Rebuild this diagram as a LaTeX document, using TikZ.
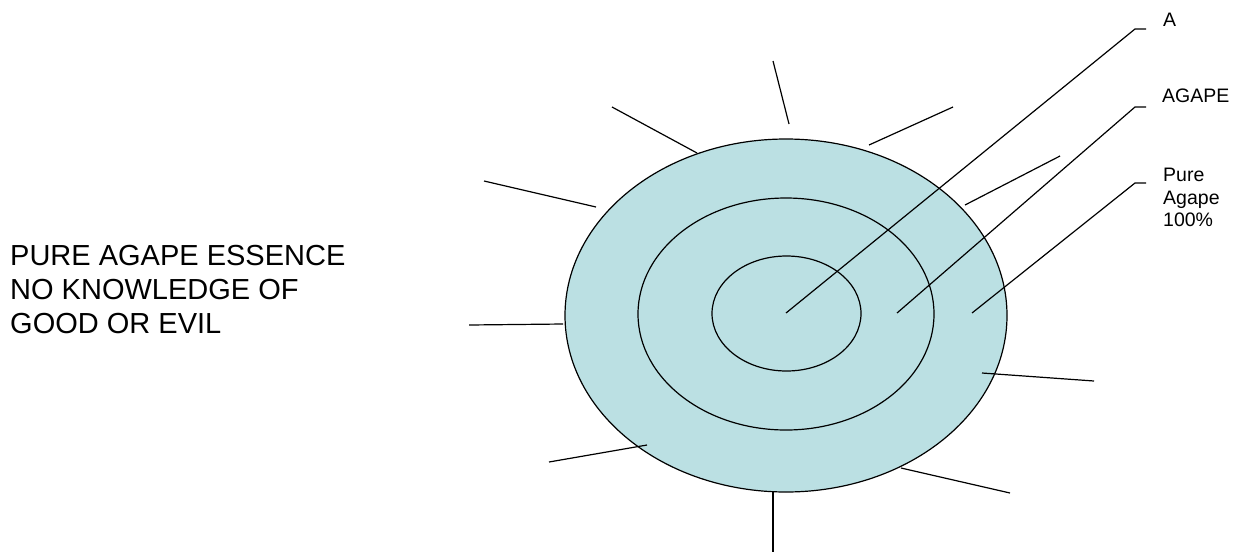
\documentclass[tikz,border=0pt]{standalone}
\usepackage{fontspec}
\setmainfont{Liberation Sans}
\definecolor{agape}{RGB}{187,224,227}
\begin{document}
\begin{tikzpicture}[x=1pt,y=-1pt,
  ring/.style={draw=black,line width=1.2pt},
  ray/.style={draw=black,line width=1.2pt},
  leader/.style={draw=black,line width=1.2pt},
  bigtext/.style={font=\fontsize{29}{34}\selectfont,align=left,anchor=north west,inner sep=0pt},
  lbl/.style={font=\fontsize{19.5}{22.5}\selectfont,align=left,anchor=north west,inner sep=0pt}]
\useasboundingbox (0,0) rectangle (1238,555);
% rings
\fill[agape] (786,315.5) ellipse [x radius=221,y radius=176.5];
\draw[ring] (786,315.5) ellipse [x radius=221,y radius=176.5];
\draw[ring] (786,314) ellipse [x radius=148,y radius=116];
\draw[ring] (786.5,313.5) ellipse [x radius=74.5,y radius=57.5];
% rays
\coordinate (r1a) at (773,61);  \coordinate (r1b) at (789,124);
\coordinate (r2a) at (612,107); \coordinate (r2b) at (697,153);
\coordinate (r3a) at (869,145); \coordinate (r3b) at (953,107);
\coordinate (r4a) at (484,181); \coordinate (r4b) at (596,207);
\coordinate (r5a) at (965,205); \coordinate (r5b) at (1060,156);
\coordinate (r6a) at (469,325); \coordinate (r6b) at (563,324);
\coordinate (r7a) at (982,373); \coordinate (r7b) at (1094,381);
\coordinate (r8a) at (549,462); \coordinate (r8b) at (647,445);
\coordinate (r9a) at (901,468); \coordinate (r9b) at (1010,493);
\coordinate (r10a) at (773,492); \coordinate (r10b) at (773,552);
\foreach \i in {1,...,10} \draw[ray] (r\i a) -- (r\i b);
% leaders
\coordinate (a0) at (786,313);  \coordinate (a1) at (1135,29);  \coordinate (a2) at (1146,29);
\coordinate (g0) at (897,313);  \coordinate (g1) at (1135,107); \coordinate (g2) at (1146,107);
\coordinate (p0) at (972,313);  \coordinate (p1) at (1135,183); \coordinate (p2) at (1146,183);
\draw[leader] (a0) -- (a1) -- (a2);
\draw[leader] (g0) -- (g1) -- (g2);
\draw[leader] (p0) -- (p1) -- (p2);
% labels
\node[lbl] (tA) at (1163,12.5) {A};
\node[lbl] (tG) at (1162,88.5) {AGAPE};
\node[lbl] (tP) at (1163,168) {Pure\\Agape\\100\%};
\node[bigtext] (tL) at (10,245) {PURE AGAPE ESSENCE\\NO KNOWLEDGE OF\\GOOD OR EVIL};
\end{tikzpicture}
\end{document}
